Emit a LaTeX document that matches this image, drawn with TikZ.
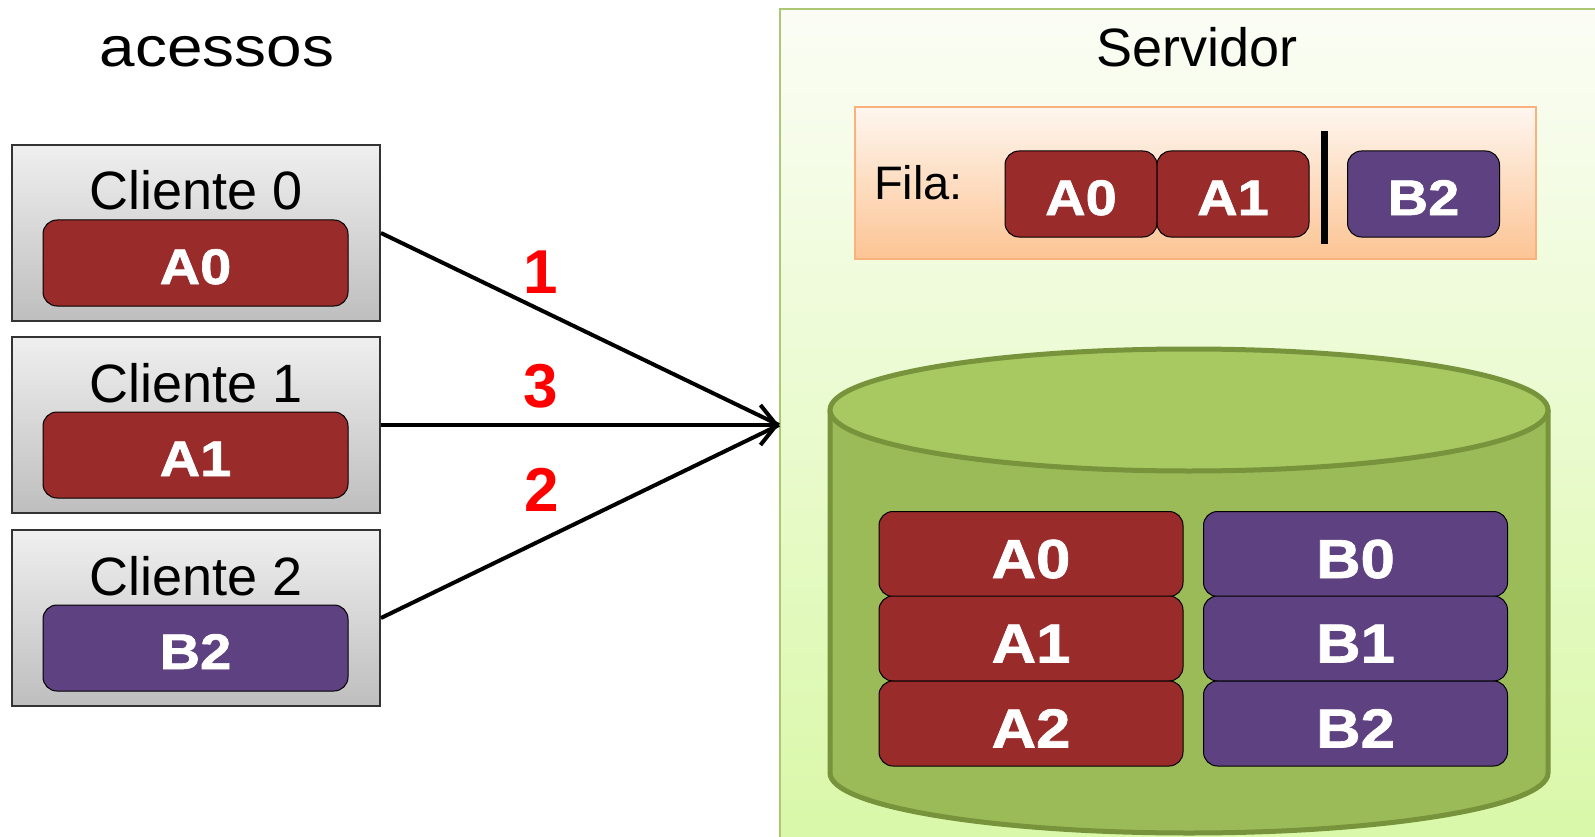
\documentclass[tikz,border=0pt]{standalone}
\usepackage{fontspec}
\setmainfont{Liberation Sans}
\newfontfamily\heavyfont{Liberation Sans}[BoldFeatures={FakeBold=1.2}]
\usetikzlibrary{arrows.meta}

\definecolor{itemred}{HTML}{9A2B2B}
\definecolor{itempurple}{HTML}{5E4180}
\definecolor{panelTop}{HTML}{FBFDF5}
\definecolor{panelBot}{HTML}{D8F8A6}
\definecolor{panelLine}{HTML}{ADC874}
\definecolor{cylFill}{HTML}{9BBB59}
\definecolor{cylTop}{HTML}{A8C862}
\definecolor{cylLine}{HTML}{77933C}
\definecolor{queueTop}{HTML}{FEF6EF}
\definecolor{queueBot}{HTML}{FCC494}
\definecolor{queueLine}{HTML}{F9B27C}
\definecolor{clientTop}{HTML}{EFEFEF}
\definecolor{clientBot}{HTML}{BEBEBE}
\definecolor{clientLine}{HTML}{333333}

% heavy, slightly widened label used inside the coloured blocks
\newcommand\heavylabel[1]{\scalebox{1.12}[1]{\heavyfont\bfseries #1}}

\begin{document}
\begin{tikzpicture}[x=1pt, y=-1pt,
  client/.style={draw=clientLine, line width=2pt, top color=clientTop,
    bottom color=clientBot, minimum width=368pt, minimum height=176pt,
    inner sep=0pt},
  item/.style={draw=black, line width=1pt, rounded corners=14pt, text=white,
    font=\fontsize{55}{60}\selectfont, inner sep=0pt,
    text height=48pt, text depth=0pt,
    minimum width=304pt, minimum height=85pt},
  smallitem/.style={font=\fontsize{50}{60}\selectfont, text height=42pt},
  reditem/.style={item, fill=itemred},
  purpleitem/.style={item, fill=itempurple},
  qitem/.style={smallitem, minimum width=152pt, minimum height=86pt},
  label/.style={font=\fontsize{54}{60}\selectfont, inner sep=0pt},
  seqnum/.style={text=red, font=\bfseries\fontsize{62}{70}\selectfont, inner sep=0pt},
  link/.style={line width=4pt, draw=black},
  queuebox/.style={draw=queueLine, line width=2pt, top color=queueTop,
    bottom color=queueBot, minimum width=681pt, minimum height=152pt, inner sep=0pt}
]
\useasboundingbox (0,0) rectangle (1595,837);
\clip (0,0) rectangle (1595,837);

% server panel
\shade[top color=panelTop, bottom color=panelBot] (780,9) rectangle (1620,860);
\draw[panelLine, line width=1.5pt] (1620,9) -- (780,9) -- (780,860);

% titles
\node[label, anchor=base, font=\fontsize{56}{60}\selectfont] (acessos) at (217,67) {\scalebox{1.14}[1]{acessos}};
\node[label, anchor=base] (servidor) at (1197,67) {Servidor};

% clients
\foreach \i/\top/\name/\sty in {0/145/A0/reditem, 1/337/A1/reditem, 2/530/B2/purpleitem} {
  \node[client] (c\i) at (196,\top+88) {};
  \node[label, anchor=base] (cl\i) at (196,\top+65) {Cliente \i};
  \node[\sty, smallitem, minimum width=305pt, minimum height=86pt] (ci\i) at (195.5,\top+118) {\heavylabel{\name}};
}

% request arrows
\coordinate (entry) at (779,425);
\draw[link] (c0.east) -- (entry);
\draw[link] (c2.east) -- (entry);
\draw[link, -{Straight Barb[length=16pt, width=40pt, line width=4pt]}] (c1.east) -- (entry);

\node[seqnum] (n1) at (541,272) {1};
\node[seqnum] (n3) at (541,386) {3};
\node[seqnum] (n2) at (542,490) {2};

% queue
\node[queuebox] (fila) at (1195.5,183) {};
\node[label, anchor=base west, font=\fontsize{47}{50}\selectfont] (filalabel) at (874,200) {Fila:};
\node[reditem, qitem] (qa0) at (1081,194) {\heavylabel{A0}};
\node[reditem, qitem] (qa1) at (1233,194) {\heavylabel{A1}};
\draw[line width=7pt] (1324,131) -- (1324,244);
\node[purpleitem, qitem] (qb2) at (1423.5,194) {\heavylabel{B2}};

% storage cylinder
\filldraw[fill=cylFill, draw=cylLine, line width=5pt]
  (830,410) -- (830,773)
  .. controls (830,806.1) and (990.7,833) .. (1189,833)
  .. controls (1387.3,833) and (1548,806.1) .. (1548,773)
  -- (1548,410);
\draw[fill=cylTop, draw=cylLine, line width=5pt] (1189,410) ellipse [x radius=359pt, y radius=61pt];

\node[reditem] (da0) at (1031,554) {\heavylabel{A0}};
\node[reditem] (da1) at (1031,638.5) {\heavylabel{A1}};
\node[reditem] (da2) at (1031,723.5) {\heavylabel{A2}};
\node[purpleitem] (db0) at (1355.5,554) {\heavylabel{B0}};
\node[purpleitem] (db1) at (1355.5,638.5) {\heavylabel{B1}};
\node[purpleitem] (db2) at (1355.5,723.5) {\heavylabel{B2}};
\end{tikzpicture}
\end{document}
